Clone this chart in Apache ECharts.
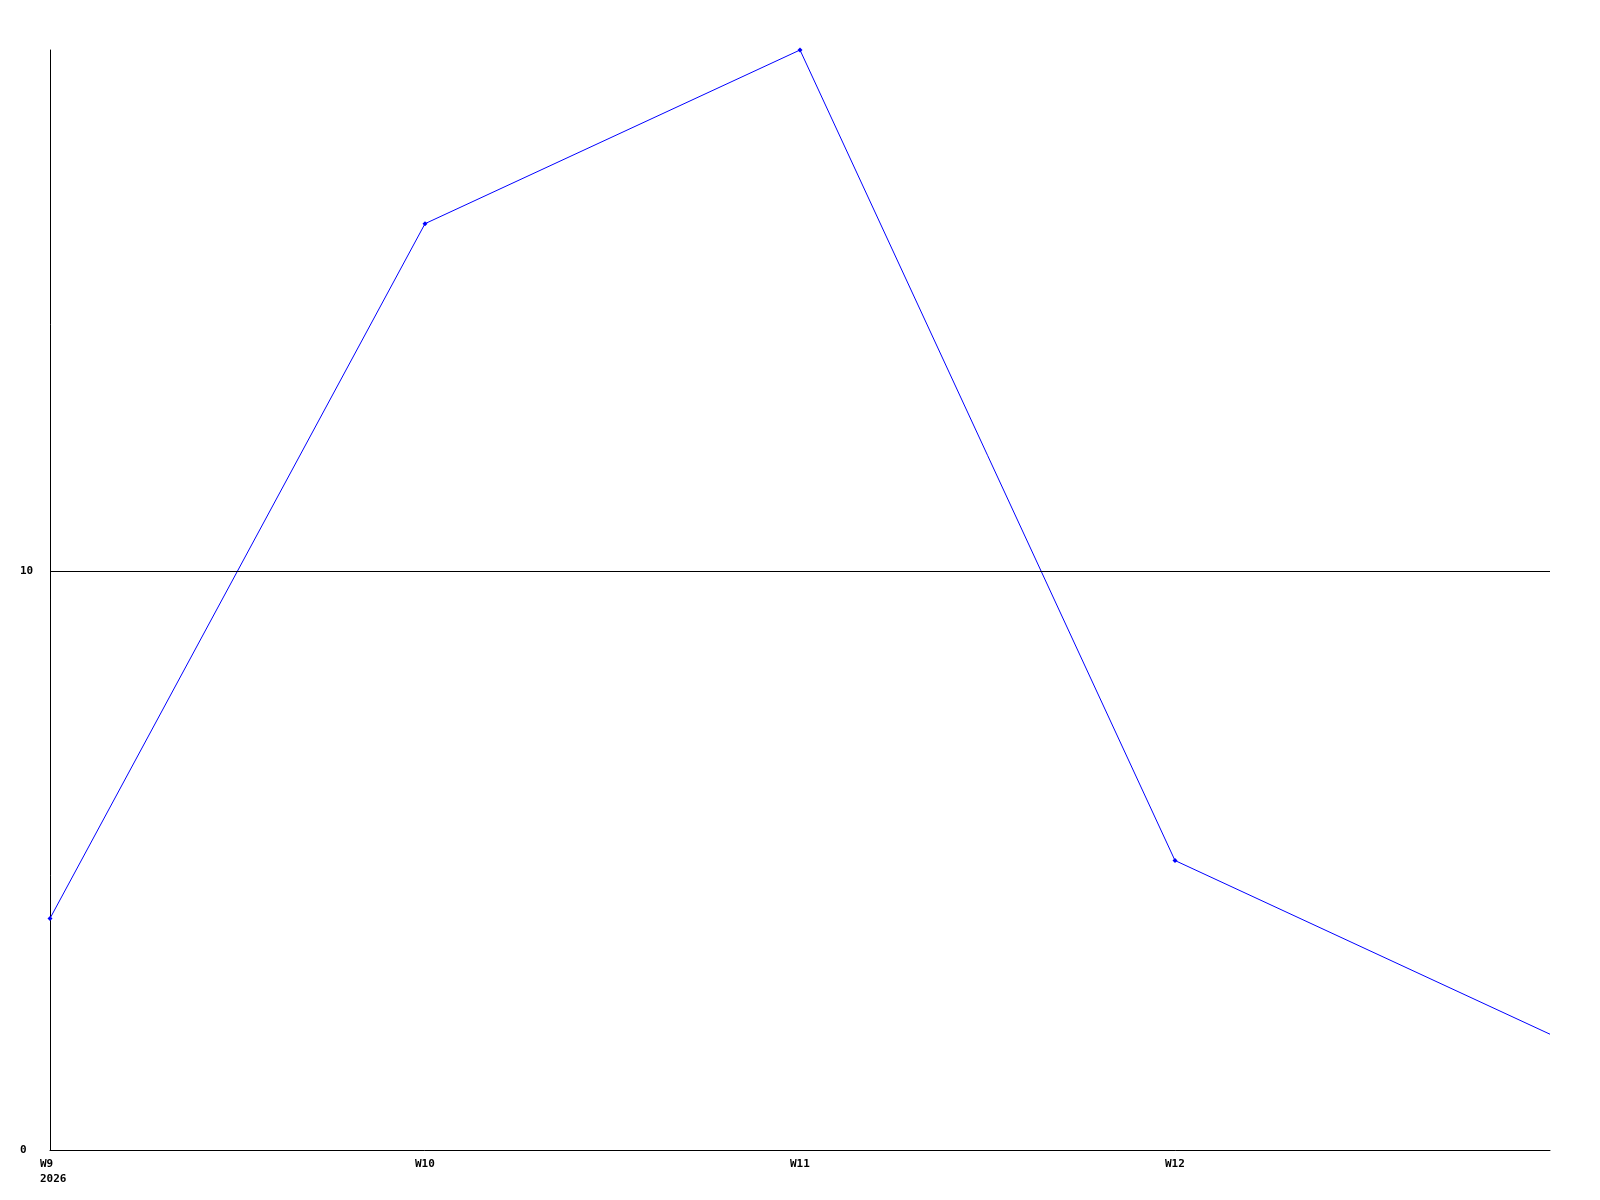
<!DOCTYPE html>
<html>
<head>
<meta charset="utf-8">
<script src="https://cdn.jsdelivr.net/npm/echarts@6/dist/echarts.min.js"></script>
<style>
  html, body { margin: 0; padding: 0; background: #fff; }
  #chart { width: 1600px; height: 1200px; }
</style>
</head>
<body>
<div id="chart"></div>
<script>
// week labels on the x axis (last point has no label)
var weeks = ['W9\n2026', 'W10', 'W11', 'W12', ''];
var values = [4, 16, 19, 5, 2];
var yTicks = [0, 10];

var chart = echarts.init(document.getElementById('chart'));
var font = '"DejaVu Sans Mono", monospace';

// last point is drawn without a marker
var seriesData = values.map(function (v, i) {
    return i === values.length - 1 ? { value: v, symbol: 'none' } : v;
});

var option = {
    animation: false,
    backgroundColor: '#ffffff',
    grid: { left: 50, right: 50, top: 50, bottom: 50 },
    xAxis: {
        type: 'category',
        data: weeks,
        boundaryGap: false,
        axisLine: { lineStyle: { color: '#000', width: 1 } },
        axisTick: { show: false },
        axisLabel: {
            interval: 0,
            align: 'left',
            padding: [0, 0, 0, -10],
            margin: 7,
            color: '#000',
            fontFamily: font,
            fontWeight: 'bold',
            fontSize: 11,
            lineHeight: 15
        },
        splitLine: { show: false }
    },
    yAxis: {
        type: 'value',
        min: 0,
        max: 19,
        interval: 10,
        axisLine: { show: true, lineStyle: { color: '#000', width: 1 } },
        axisTick: { show: false },
        axisLabel: {
            align: 'left',
            margin: 30,
            color: '#000',
            fontFamily: font,
            fontWeight: 'bold',
            fontSize: 11,
            showMaxLabel: false,
            formatter: function (v) { return yTicks.indexOf(v) >= 0 ? String(v) : ''; }
        },
        splitLine: { show: false }
    },
    series: [{
        type: 'line',
        data: seriesData,
        symbol: 'diamond',
        symbolSize: 5,
        showAllSymbol: true,
        lineStyle: { color: '#0000ff', width: 1 },
        itemStyle: { color: '#0000ff' },
        z: 3,
        markLine: {
            silent: true,
            symbol: 'none',
            label: { show: false },
            lineStyle: { color: '#000', width: 1, type: 'solid' },
            data: yTicks.filter(function (t) { return t > 0; }).map(function (t) {
                return { yAxis: t };
            })
        }
    }]
};
chart.setOption(option);
</script>
</body>
</html>
